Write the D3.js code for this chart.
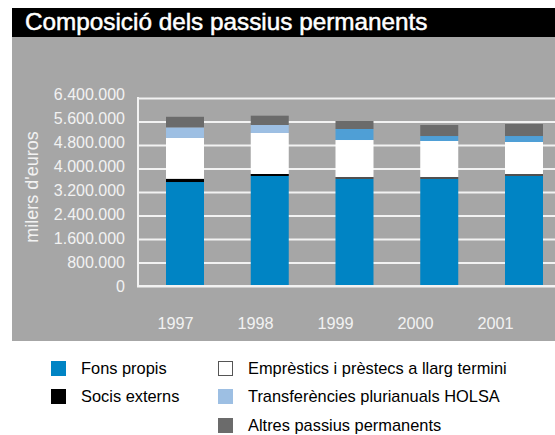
<!DOCTYPE html>
<html>
<head>
<meta charset="utf-8">
<script src="https://cdn.jsdelivr.net/npm/d3@7"></script>
<style>
  html, body { margin: 0; padding: 0; background: #ffffff; }
  svg { display: block; font-family: "Liberation Sans", Arial, sans-serif; }
</style>
</head>
<body>
<svg id="chart" width="555" height="435"></svg>
<script>
// Years shown on the x axis
const years = ["1997", "1998", "1999", "2000", "2001"];

// Stacked components (euros), bottom to top
const fonsPropis      = [3540000, 3745000, 3643000, 3643000, 3745000];
const socisExterns    = [ 110000,   68000,   68000,   68000,   68000];
const emprestics      = [1390000, 1396000, 1259000, 1225000, 1089000];
const transferencies  = [ 360000,  272000,  375000,  170000,  204000];
const altresPassius   = [ 360000,  317000,  272000,  375000,  409000];

// Axis tick values and their labels
const tickValues = [0, 800000, 1600000, 2400000, 3200000, 4000000, 4800000, 5600000, 6400000];
const tickLabels = ["0", "800.000", "1.600.000", "2.400.000", "3.200.000", "4.000.000", "4.800.000", "5.600.000", "6.400.000"];

const seriesNames = ["Fons propis", "Socis externs", "Emprèstics i prèstecs a llarg termini",
                     "Transferències plurianuals HOLSA", "Altres passius permanents"];

// Segment colours; later years use a different shade for two components
const baseColors = ["#0084c4", "#000000", "#ffffff", "#9dbfe3", "#6b6b6b"];
const laterColors = ["#0084c4", "#505050", "#ffffff", "#4f9fd6", "#6b6b6b"];
const colorFor = (si, year) => (+year >= 1999 ? laterColors[si] : baseColors[si]);

const rows = years.map((y, i) => ({
  year: y,
  s0: fonsPropis[i], s1: socisExterns[i], s2: emprestics[i],
  s3: transferencies[i], s4: altresPassius[i]
}));
const stack = d3.stack().keys(["s0", "s1", "s2", "s3", "s4"])(rows);

const svg = d3.select("#chart");

// Title band and grey panel
svg.append("rect").attr("x", 12).attr("y", 8).attr("width", 543).attr("height", 29).attr("fill", "#000");
svg.append("text").attr("x", 25).attr("y", 30)
  .attr("fill", "#fff").attr("stroke", "#fff").attr("stroke-width", 0.5)
  .attr("font-size", 24.3)
  .text("Composició dels passius permanents");
svg.append("rect").attr("x", 12).attr("y", 37).attr("width", 543).attr("height", 304).attr("fill", "#a6a6a6");

// Scales
const y = d3.scaleLinear().domain([0, 6400000]).range([286, 98]);
const yLabel = d3.scaleLinear().domain([0, 6400000]).range([286, 94]);
const x = d3.scaleBand().domain(years).range([166, 543]).paddingInner(0.5516).paddingOuter(0);
const xLabel = d3.scalePoint().domain(years).range([175, 495]);

// Grid lines (white)
const grid = svg.append("g").attr("transform", "translate(137,0)")
  .call(d3.axisLeft(y).tickValues(tickValues).tickSize(-418).tickFormat(""));
grid.select(".domain").remove();
grid.selectAll(".tick line").attr("stroke", "#f2f2f2").attr("stroke-width", 2);

// Left frame line
svg.append("line").attr("x1", 138).attr("x2", 138).attr("y1", y(6400000) - 1).attr("y2", y(0) + 1)
  .attr("stroke", "#f2f2f2").attr("stroke-width", 2);

// Bars
stack.forEach((layer, si) => {
  svg.append("g").selectAll("rect").data(layer).join("rect")
    .attr("x", d => x(d.data.year))
    .attr("width", x.bandwidth())
    .attr("y", d => y(d[1]))
    .attr("height", d => y(d[0]) - y(d[1]))
    .attr("fill", d => colorFor(si, d.data.year));
});

// Baseline over the bars
svg.append("line").attr("x1", 137).attr("x2", 555).attr("y1", y(0)).attr("y2", y(0))
  .attr("stroke", "#f2f2f2").attr("stroke-width", 2);

// Value axis labels
const yAxis = svg.append("g").attr("transform", "translate(125,0)")
  .call(d3.axisLeft(yLabel).tickValues(tickValues).tickSize(0).tickPadding(0)
    .tickFormat((d, i) => tickLabels[i]));
yAxis.select(".domain").remove();
yAxis.selectAll("text").attr("fill", "#f2f2f2").attr("font-size", 16)
  .attr("font-family", "Liberation Sans, Arial, sans-serif");

// Axis title
svg.append("text").attr("transform", "translate(38,187) rotate(-90)")
  .attr("text-anchor", "middle").attr("fill", "#f2f2f2").attr("font-size", 18)
  .text("milers d'euros");

// Year labels
const xAxis = svg.append("g").attr("transform", "translate(0,317)")
  .call(d3.axisBottom(xLabel).tickSize(0).tickPadding(0));
xAxis.select(".domain").remove();
xAxis.selectAll("text").attr("fill", "#f2f2f2").attr("font-size", 16.3)
  .attr("font-family", "Liberation Sans, Arial, sans-serif");

// Legend
const legendItems = [
  { si: 0, x: 51, y: 361 },
  { si: 1, x: 51, y: 389 },
  { si: 2, x: 218, y: 361 },
  { si: 3, x: 218, y: 389 },
  { si: 4, x: 218, y: 418 }
];
const legendColors = ["#0084c4", "#000000", "#ffffff", "#9dbfe3", "#6b6b6b"];
const lg = svg.append("g").selectAll("g").data(legendItems).join("g")
  .attr("transform", d => `translate(${d.x},${d.y})`);
lg.append("rect")
  .attr("fill", d => legendColors[d.si])
  .attr("stroke", d => d.si === 2 ? "#555" : "none")
  .attr("stroke-width", 1)
  .attr("x", d => d.si === 2 ? 0.5 : 0).attr("y", d => d.si === 2 ? 0.5 : 0)
  .attr("width", d => d.si === 2 ? 14 : 15).attr("height", d => d.si === 2 ? 14 : 15);
lg.append("text").attr("x", 30).attr("y", 13).attr("font-size", 16.4).attr("fill", "#000")
  .text(d => seriesNames[d.si]);
</script>
</body>
</html>
